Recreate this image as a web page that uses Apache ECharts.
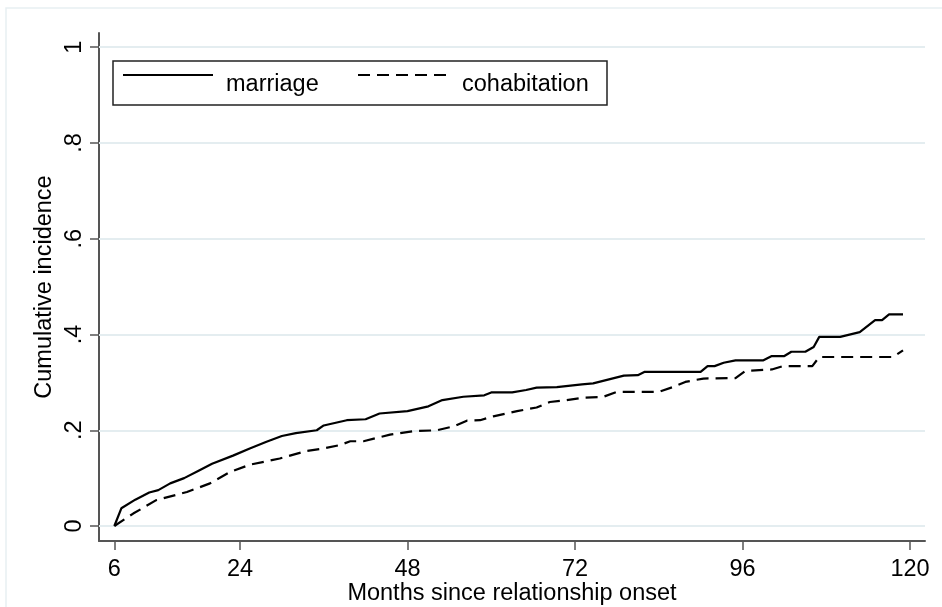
<!DOCTYPE html>
<html>
<head>
<meta charset="utf-8">
<script src="https://cdn.jsdelivr.net/npm/echarts@6/dist/echarts.min.js"></script>
<style>
html,body{margin:0;padding:0;background:#fff;}
#chart{width:942px;height:607px;}
</style>
</head>
<body>
<div id="chart"></div>
<script>
// Data
const marriage = [
  [6,0],[7,0.037],[9,0.055],[11,0.070],[12.3,0.075],[14,0.089],[16,0.100],[18,0.115],[20,0.130],
  [23,0.147],[25.4,0.162],[27.8,0.176],[30,0.188],[32,0.194],[35,0.200],[36,0.210],[39.3,0.221],
  [42,0.223],[44,0.235],[48,0.240],[51,0.250],[53,0.263],[56,0.270],[59,0.273],[60,0.279],
  [63,0.279],[65,0.284],[66.5,0.289],[69.4,0.290],[73,0.296],[74.6,0.298],[79,0.314],[81,0.315],
  [82,0.322],[90,0.322],[91,0.334],[92,0.334],[93.3,0.341],[95,0.346],[99,0.346],[100.2,0.355],
  [102,0.355],[103,0.364],[105,0.364],[106.2,0.374],[107,0.395],[110,0.395],[112.8,0.405],
  [115,0.430],[116,0.430],[117,0.442],[119,0.442]
];
const cohabitation = [
  [6,0],[8.7,0.026],[12,0.054],[16.4,0.071],[19.7,0.089],[22.6,0.113],[25.4,0.128],[29.7,0.141],
  [33.6,0.157],[36,0.162],[38.3,0.169],[39.8,0.177],[41.7,0.177],[45.5,0.191],[48.8,0.198],
  [52.2,0.200],[54.6,0.208],[56.5,0.220],[58.4,0.221],[60.3,0.229],[63.7,0.240],[66.5,0.2475],
  [68.4,0.259],[70.8,0.263],[73.2,0.268],[76,0.2695],[78,0.280],[84,0.280],[86,0.290],[87.8,0.301],
  [90.4,0.308],[95,0.309],[96.4,0.324],[100.2,0.327],[101.8,0.334],[106,0.334],[107,0.353],
  [117.6,0.353],[119,0.367]
];
const xTicks = [6, 24, 48, 72, 96, 120];
const yTicks = [0, 0.2, 0.4, 0.6, 0.8, 1];
const yTickLabels = ['0', '.2', '.4', '.6', '.8', '1'];
const seriesNames = ['marriage', 'cohabitation'];
const xTitle = 'Months since relationship onset';
const yTitle = 'Cumulative incidence';

const FONT = 'Liberation Sans, Arial, Helvetica, sans-serif';
const AXIS_COLOR = '#555555';
const GRID_COLOR = '#e4edf0';
const FS = 23.5;
const DASH = [12, 7];

const chart = echarts.init(document.getElementById('chart'), null, {renderer: 'canvas'});
const option = {
  animation: false,
  backgroundColor: '#ffffff',
  textStyle: {fontFamily: FONT},
  graphic: [
    {type: 'rect', z: -10, shape: {x: 6, y: 8, width: 950, height: 620},
     style: {fill: 'none', stroke: '#e8eff2', lineWidth: 1.5}},
    // legend box
    {type: 'group', z: 100, children: [
      {type: 'rect', shape: {x: 113, y: 61, width: 494, height: 44},
       style: {fill: '#ffffff', stroke: '#222222', lineWidth: 1.5}},
      {type: 'line', shape: {x1: 123, y1: 75, x2: 213, y2: 75},
       style: {stroke: '#000', lineWidth: 2}},
      {type: 'text', x: 226, y: 85,
       style: {text: seriesNames[0], fontSize: FS, fontFamily: FONT, fill: '#000', verticalAlign: 'middle', align: 'left'}},
      {type: 'line', shape: {x1: 358, y1: 75, x2: 447, y2: 75},
       style: {stroke: '#000', lineWidth: 2, lineDash: DASH}},
      {type: 'text', x: 462, y: 85,
       style: {text: seriesNames[1], fontSize: FS, fontFamily: FONT, fill: '#000', verticalAlign: 'middle', align: 'left'}}
    ]}
  ],
  grid: {left: 99, right: 17, top: 33, bottom: 66, containLabel: false, outerBoundsMode: 'none'},
  xAxis: {
    type: 'value',
    min: 3.8,
    max: 122.15,
    name: xTitle,
    nameLocation: 'middle',
    nameGap: 41,
    nameMoveOverlap: false,
    nameTextStyle: {fontSize: FS, color: '#000', fontFamily: FONT},
    axisLine: {show: true, onZero: false, lineStyle: {color: AXIS_COLOR, width: 2}},
    axisTick: {show: true, length: 9, customValues: xTicks, lineStyle: {color: AXIS_COLOR, width: 1.5}},
    axisLabel: {customValues: xTicks, fontSize: FS, color: '#000', margin: 17, fontFamily: FONT},
    splitLine: {show: false}
  },
  yAxis: {
    type: 'value',
    min: -0.0313,
    max: 1.0297,
    name: yTitle,
    nameLocation: 'middle',
    nameGap: 42,
    nameMoveOverlap: false,
    nameTextStyle: {fontSize: FS, color: '#000', fontFamily: FONT},
    axisLine: {show: true, onZero: false, lineStyle: {color: AXIS_COLOR, width: 2}},
    axisTick: {show: true, length: 9, customValues: yTicks, lineStyle: {color: AXIS_COLOR, width: 1.5}},
    axisLabel: {
      customValues: yTicks, fontSize: FS, color: '#000', margin: 12, rotate: 90, fontFamily: FONT,
      formatter: function (v) {
        const i = yTicks.findIndex(t => Math.abs(t - v) < 1e-9);
        return i >= 0 ? yTickLabels[i] : '';
      }
    },
    splitLine: {show: false}
  },
  series: [
    {
      name: seriesNames[0],
      type: 'line',
      data: marriage,
      showSymbol: false,
      symbol: 'none',
      z: 5,
      lineStyle: {color: '#000', width: 2.2, type: 'solid'},
      itemStyle: {color: '#000'},
      markLine: {
        silent: true,
        symbol: 'none',
        z: 1,
        label: {show: false},
        lineStyle: {color: GRID_COLOR, width: 2, type: 'solid'},
        data: yTicks.map(v => ({yAxis: v}))
      }
    },
    {
      name: seriesNames[1],
      type: 'line',
      data: cohabitation,
      showSymbol: false,
      symbol: 'none',
      z: 5,
      lineStyle: {color: '#000', width: 2.2, type: DASH},
      itemStyle: {color: '#000'}
    }
  ]
};
chart.setOption(option);
</script>
</body>
</html>
